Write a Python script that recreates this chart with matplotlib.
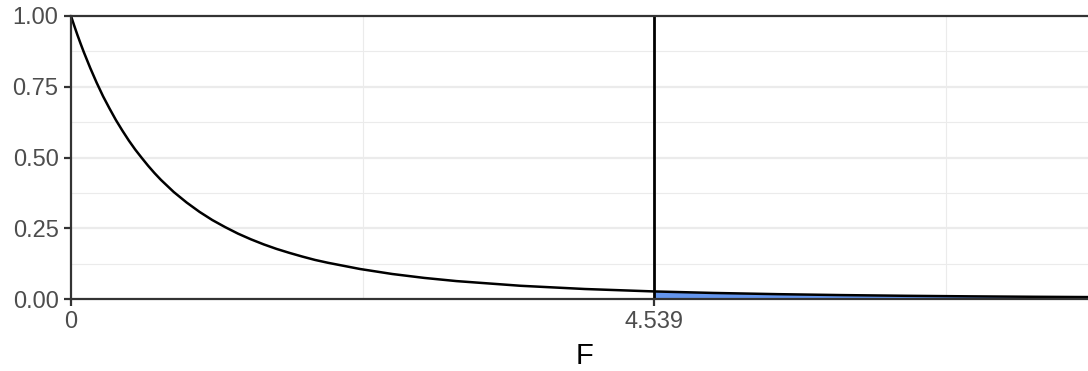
import numpy as np
import matplotlib.pyplot as plt

plt.rcParams['font.family'] = ['Liberation Sans', 'DejaVu Sans']

# density
f_x = [0, 0.025, 0.05, 0.075, 0.1, 0.15, 0.2, 0.25, 0.3, 0.35, 0.4, 0.45, 0.5,
       0.55, 0.6, 0.65, 0.7, 0.8, 0.9, 1.0, 1.1, 1.2, 1.3, 1.4, 1.5, 1.6, 1.7,
       1.8, 1.9, 2.0, 2.25, 2.5, 2.75, 3.0, 3.5, 4.0, 4.539, 5.0, 5.5, 6.0, 6.5,
       7.0, 7.5, 8.0]
f_y = [1.0, 0.966, 0.933, 0.902, 0.872, 0.816, 0.764, 0.716, 0.673, 0.632, 0.595,
       0.560, 0.528, 0.499, 0.471, 0.445, 0.421, 0.378, 0.341, 0.308, 0.279,
       0.254, 0.231, 0.211, 0.193, 0.177, 0.163, 0.150, 0.138, 0.128, 0.106,
       0.0884, 0.0745, 0.0633, 0.0467, 0.0353, 0.0267, 0.0214, 0.0171, 0.0138,
       0.0113, 0.00935, 0.00781, 0.00658]
f_stat = 4.539
y_ticks = [0, 0.25, 0.5, 0.75, 1.0]
y_labels = ['0.00', '0.25', '0.50', '0.75', '1.00']
x_ticks = [0, f_stat]
x_labels = ['0', '4.539']

W, H = 1088, 371
fig = plt.figure(figsize=(W / 100, H / 100), dpi=100)
left, right, top, bottom = 71, 1100, 16, 299
ax = fig.add_axes([left / W, 1 - bottom / H, (right - left) / W, (bottom - top) / H])

x = np.array(f_x)
y = np.array(f_y)

# gridlines
for v in [0.125, 0.375, 0.625, 0.875]:
    ax.axhline(v, color='#EBEBEB', lw=0.8, zorder=0)
for v in [0.25, 0.5, 0.75]:
    ax.axhline(v, color='#EBEBEB', lw=1.6, zorder=0)
for v in [f_stat / 2, f_stat * 1.5]:
    ax.axvline(v, color='#EBEBEB', lw=0.8, zorder=0)

mask = x >= f_stat
ax.fill_between(x[mask], 0, y[mask], color='#6495ED', lw=0, zorder=2)
ax.plot(x, y, color='black', lw=1.8, zorder=3, solid_joinstyle='round')
ax.axvline(f_stat, color='black', lw=2.0, zorder=4)

ax.set_xlim(0, 8.01)
ax.set_ylim(0, 1)

for s in ['left', 'bottom', 'top']:
    ax.spines[s].set_color('#333333')
    ax.spines[s].set_linewidth(1.6)
    ax.spines[s].set_zorder(5)
ax.spines['right'].set_visible(False)

ax.set_yticks(y_ticks)
ax.set_yticklabels(y_labels)
ax.set_xticks(x_ticks)
ax.set_xticklabels(x_labels)
ax.tick_params(length=5, width=1.6, color='#333333', labelcolor='#4D4D4D',
               labelsize=17, pad=4)

fig.text(585 / W, 1 - 364 / H, 'F', ha='center', va='baseline', fontsize=21,
         color='black')

fig.savefig('out.png', dpi=100)
